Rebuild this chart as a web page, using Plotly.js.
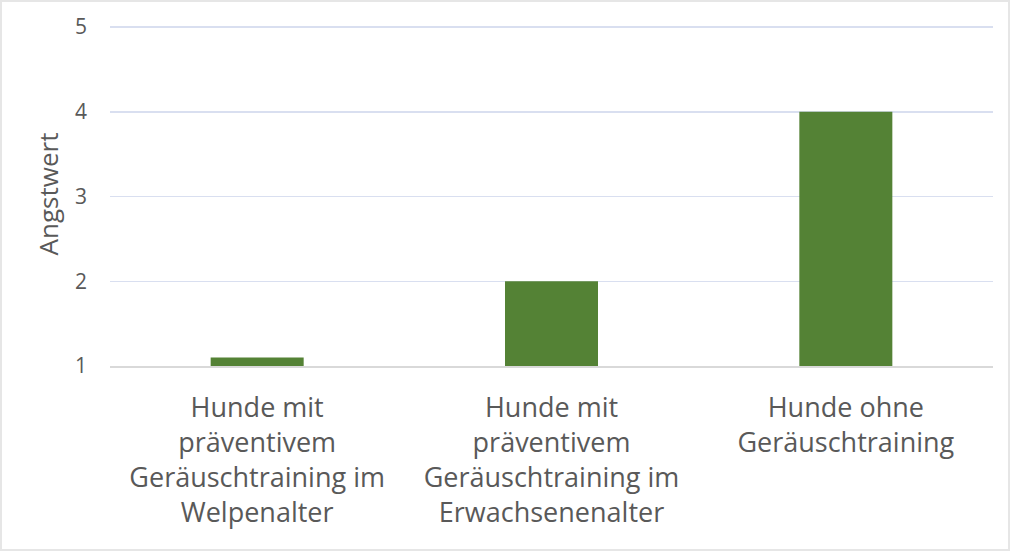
<!DOCTYPE html>
<html><head><meta charset="utf-8">
<script src="https://cdn.plot.ly/plotly-3.0.1.min.js"></script>
<style>html,body{margin:0;padding:0;background:#fff;}#c{width:1006px;height:547px;border:2px solid #e6e6e6;}</style>
</head><body><div id="c"></div>
<script>
const categories = [
  "Hunde mit<br>präventivem<br>Geräuschtraining im<br>Welpenalter",
  "Hunde mit<br>präventivem<br>Geräuschtraining im<br>Erwachsenenalter",
  "Hunde ohne<br>Geräuschtraining"
];
const values = [1.1, 2, 4];
const yTicks = [1, 2, 3, 4, 5];

Plotly.newPlot('c', [{
  type: 'bar', x: categories, y: values.map(v => v - 1), base: 1,
  marker: {color: '#548235'}, hoverinfo: 'none'
}], {
  width: 1006, height: 547,
  margin: {l: 108, r: 15, t: 20, b: 183},
  paper_bgcolor: '#fff', plot_bgcolor: '#fff',
  font: {family: 'Open Sans, sans-serif', color: '#595959'},
  bargap: 0.684,
  showlegend: false,
  xaxis: {tickfont: {size: 27, color: '#595959'}, showline: true, linecolor: '#d9d9d9', linewidth: 1.5,
          ticks: '', ticklabelstandoff: 17, fixedrange: true},
  yaxis: {range: [1, 5.06], tickvals: yTicks, ticktext: yTicks.map(String), tickfont: {size: 21, color: '#595959'},
          gridcolor: '#d9dff0', gridwidth: 1.5, zeroline: false, ticklabelstandoff: 22,
          title: {text: 'Angstwert', font: {size: 26, color: '#595959'}, standoff: 8}, fixedrange: true}
}, {displayModeBar: false, staticPlot: true});
</script></body></html>
